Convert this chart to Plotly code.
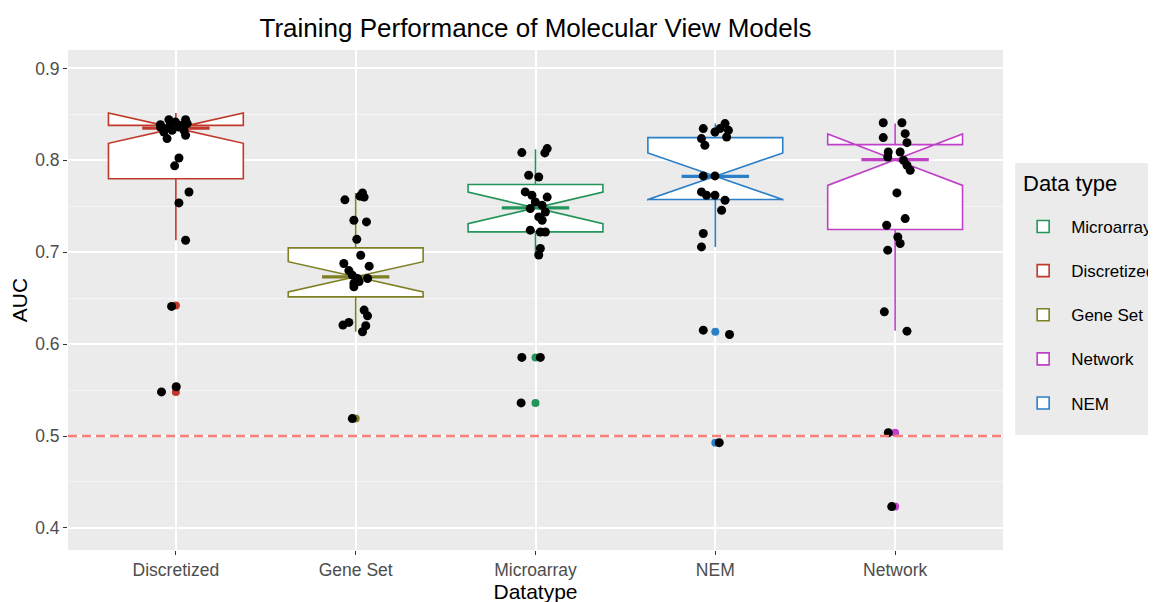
import plotly.graph_objects as go

# categories on the x axis (ggplot order) and legend order
categories = ['Discretized', 'Gene Set', 'Microarray', 'NEM', 'Network']
legend_order = ['Microarray', 'Discretized', 'Gene Set', 'Network', 'NEM']

colors = {'Discretized': '#C0392B', 'Gene Set': '#7F7F24', 'Microarray': '#23955A',
          'NEM': '#2A7FC8', 'Network': '#C040C8'}

# box statistics
q1 = {'Discretized': 0.780, 'Gene Set': 0.6514, 'Microarray': 0.7221, 'NEM': 0.7573, 'Network': 0.7247}
median = {'Discretized': 0.835, 'Gene Set': 0.6732, 'Microarray': 0.7482, 'NEM': 0.7826, 'Network': 0.8007}
q3 = {'Discretized': 0.838, 'Gene Set': 0.7047, 'Microarray': 0.7736, 'NEM': 0.8247, 'Network': 0.8171}
lower_whisker = {'Discretized': 0.713, 'Gene Set': 0.6134, 'Microarray': 0.697, 'NEM': 0.7058, 'Network': 0.6145}
upper_whisker = {'Discretized': 0.846, 'Gene Set': 0.7645, 'Microarray': 0.812, 'NEM': 0.840, 'Network': 0.840}
notch_span = {'Discretized': 0.0165, 'Gene Set': 0.0165, 'Microarray': 0.0172, 'NEM': 0.0254, 'Network': 0.028}

# outliers drawn by the boxplot layer
outliers = {
    'Discretized': [0.642, 0.553, 0.548],
    'Gene Set': [0.519],
    'Microarray': [0.5855, 0.536],
    'NEM': [0.6134, 0.4928],
    'Network': [0.5036, 0.4232],
}

# jittered AUC values and their horizontal jitter (category units)
auc_discretized = [0.8388, 0.8442, 0.8399, 0.8416, 0.8442, 0.8399, 0.8308, 0.8236, 0.8326, 0.8272,
                   0.8362, 0.8362, 0.8344, 0.838, 0.8326, 0.8025, 0.794, 0.7655, 0.7536, 0.713,
                   0.641, 0.548, 0.5536]
jit_discretized = [-0.086, -0.039, -0.030, -0.002, 0.054, 0.063, -0.067, -0.049, 0.045, 0.054,
                   0.017, -0.086, -0.058, 0.035, -0.021, 0.017, -0.007, 0.073, 0.017, 0.054,
                   -0.024, -0.080, 0.002]

auc_geneset = [0.757, 0.7645, 0.760, 0.761, 0.7348, 0.733, 0.714, 0.6967, 0.6877, 0.6848,
               0.680, 0.675, 0.6714, 0.6714, 0.666, 0.668, 0.6623, 0.637, 0.6308, 0.6236,
               0.6207, 0.620, 0.6134, 0.519]
jit_geneset = [-0.060, 0.038, 0.047, 0.024, -0.010, 0.060, 0.006, 0.028, -0.066, 0.075,
               -0.038, -0.019, 0.010, 0.066, -0.010, 0.019, -0.010, 0.047, 0.066, -0.038,
               -0.071, 0.056, 0.038, -0.019]

auc_microarray = [0.8084, 0.8127, 0.808, 0.7837, 0.7818, 0.7656, 0.762, 0.760, 0.7547, 0.751,
                  0.7475, 0.7438, 0.7384, 0.7348, 0.724, 0.722, 0.722, 0.704, 0.697, 0.5855,
                  0.5855, 0.536]
jit_microarray = [-0.076, 0.065, 0.052, -0.038, 0.018, -0.057, -0.020, 0.065, -0.001, 0.037,
                  -0.029, 0.055, 0.018, 0.037, -0.029, 0.027, 0.055, 0.027, 0.018, -0.076,
                  0.027, -0.080]

auc_nem = [0.8345, 0.8236, 0.8163, 0.8308, 0.8399, 0.8326, 0.8253, 0.8345, 0.783, 0.783,
           0.7656, 0.762, 0.762, 0.7565, 0.7457, 0.7203, 0.7058, 0.6152, 0.6105, 0.4928]
jit_nem = [-0.067, -0.077, -0.058, -0.002, 0.054, 0.073, 0.063, 0.026, -0.067, -0.002,
           -0.077, -0.049, -0.002, 0.054, 0.035, -0.067, -0.077, -0.067, 0.079, 0.022]

auc_network = [0.8408, 0.8408, 0.829, 0.8247, 0.8192, 0.809, 0.809, 0.8036, 0.800, 0.7946,
               0.7891, 0.7645, 0.7366, 0.7293, 0.7166, 0.7095, 0.7022, 0.6351, 0.6141, 0.5036,
               0.4232]
jit_network = [-0.066, 0.038, 0.056, -0.066, 0.066, -0.038, 0.028, -0.041, 0.047, 0.066,
               0.084, 0.010, 0.056, -0.047, 0.015, 0.028, -0.041, -0.060, 0.066, -0.038,
               -0.019]

points = {
    'Discretized': (auc_discretized, jit_discretized),
    'Gene Set': (auc_geneset, jit_geneset),
    'Microarray': (auc_microarray, jit_microarray),
    'NEM': (auc_nem, jit_nem),
    'Network': (auc_network, jit_network),
}

reference_auc = 0.5
box_width = 0.75

pos = {c: i + 1 for i, c in enumerate(categories)}
font_family = 'Liberation Sans, Arial, sans-serif'

fig = go.Figure()

# boxes (legend order)
for name in legend_order:
    p = pos[name]
    fig.add_trace(go.Box(
        x=[p], q1=[q1[name]], median=[median[name]], q3=[q3[name]],
        lowerfence=[lower_whisker[name]], upperfence=[upper_whisker[name]],
        notchspan=[notch_span[name]], notched=True, notchwidth=0.5,
        width=box_width, whiskerwidth=0, boxpoints=False,
        fillcolor='white', line=dict(color=colors[name], width=1.6),
        name=name, legendgroup=name, hoverinfo='skip'))

# thicker median segment like ggplot (between the notch tips)
for name in categories:
    p = pos[name]
    half = box_width / 2
    fig.add_trace(go.Scatter(
        x=[p - half * 0.5, p + half * 0.5], y=[median[name], median[name]],
        mode='lines', line=dict(color=colors[name], width=3.2),
        showlegend=False, hoverinfo='skip'))

# colored outliers
for name in categories:
    ys = outliers[name]
    fig.add_trace(go.Scatter(
        x=[pos[name]] * len(ys), y=ys, mode='markers',
        marker=dict(color=colors[name], size=8),
        showlegend=False, hoverinfo='skip'))

# jittered black points
for name in categories:
    ys, jit = points[name]
    fig.add_trace(go.Scatter(
        x=[pos[name] + j for j in jit], y=ys, mode='markers',
        marker=dict(color='black', size=9),
        showlegend=False, hoverinfo='skip'))

fig.add_hline(y=reference_auc, line=dict(color='#F8807A', width=2.6, dash='9px,5px'))

# grey legend panel + legend title (ggplot style)
fig.add_shape(type='rect', xref='paper', yref='paper', x0=1.013, x1=1.25, y0=0.23, y1=0.774,
              fillcolor='#EBEBEB', line=dict(width=0), layer='below')
fig.add_annotation(text='Data type', xref='paper', yref='paper', x=1.019, y=0.734,
                   xanchor='left', yanchor='middle', showarrow=False,
                   font=dict(family=font_family, size=22, color='black'))

tick_font = dict(family=font_family, size=17.5, color='#4D4D4D')
title_font = dict(family=font_family, size=21, color='black')

# the page body adds an 8px offset, margins compensate for it
fig.update_layout(
    width=1156, height=602,
    margin=dict(l=60, r=161, t=42, b=60, autoexpand=False),
    paper_bgcolor='white', plot_bgcolor='#EBEBEB',
    title=dict(text='Training Performance of Molecular View Models', x=0.5, xref='paper',
               y=0.967, yref='container', yanchor='middle',
               font=dict(family=font_family, size=26, color='black')),
    xaxis=dict(range=[0.4, 5.6], tickvals=[pos[c] for c in categories], ticktext=categories,
               showgrid=True, gridcolor='white', gridwidth=1.5, zeroline=False, automargin=False,
               ticks='outside', ticklen=4, tickcolor='#333333', tickfont=tick_font,
               title=dict(text='Datatype', font=title_font, standoff=2)),
    yaxis=dict(range=[0.376, 0.92], dtick=0.1, tick0=0.4, tickformat='.1f', automargin=False,
               showgrid=True, gridcolor='white', gridwidth=1.5, zeroline=False,
               minor=dict(dtick=0.05, tick0=0.45, showgrid=True, gridcolor='#F5F5F5', gridwidth=0.8),
               ticks='outside', ticklen=4, tickcolor='#333333', tickfont=tick_font,
               title=dict(text='AUC', font=title_font, standoff=4)),
    legend=dict(x=1.013, xanchor='left', y=0.682, yanchor='top',
                bgcolor='rgba(0,0,0,0)', tracegroupgap=19, itemwidth=46,
                font=dict(family=font_family, size=17, color='black')),
    showlegend=True,
)

fig.write_html("out.html")
